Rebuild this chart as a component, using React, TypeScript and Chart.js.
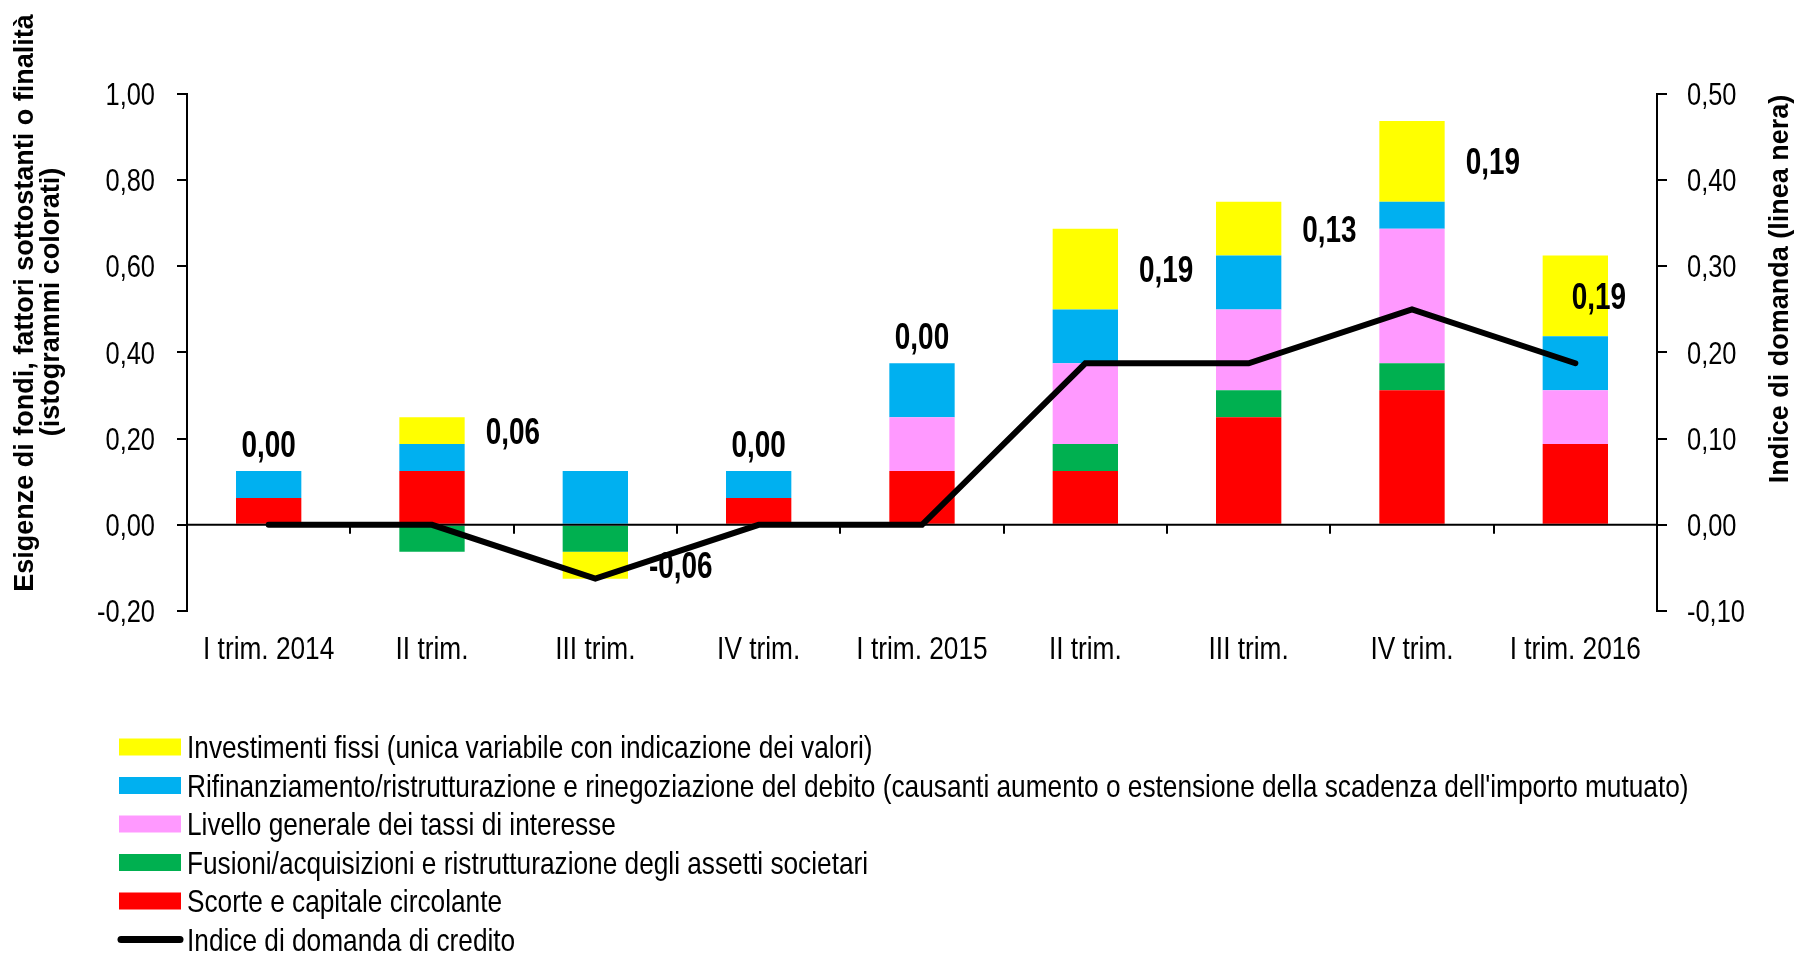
import React, { useEffect, useRef } from "react";
import { Chart, registerables } from "chart.js";

Chart.register(...registerables);

// ---------- data ----------
const categories = [
  "I trim. 2014",
  "II trim.",
  "III trim.",
  "IV trim.",
  "I trim. 2015",
  "II trim.",
  "III trim.",
  "IV trim.",
  "I trim. 2016",
];

const scorte = [0.0625, 0.125, 0, 0.0625, 0.125, 0.125, 0.25, 0.3125, 0.1875];
const fusioni = [0, -0.0625, -0.0625, 0, 0, 0.0625, 0.0625, 0.0625, 0];
const livello = [0, 0, 0, 0, 0.125, 0.1875, 0.1875, 0.3125, 0.125];
const rifinanziamento = [0.0625, 0.0625, 0.125, 0.0625, 0.125, 0.125, 0.125, 0.0625, 0.125];
const investimenti = [0, 0.0625, -0.0625, 0, 0, 0.1875, 0.125, 0.1875, 0.1875];
const indiceDomanda = [0, 0, -0.0625, 0, 0, 0.1875, 0.1875, 0.25, 0.1875];

const leftTicks = [-0.2, 0, 0.2, 0.4, 0.6, 0.8, 1.0];
const rightTicks = [-0.1, 0, 0.1, 0.2, 0.3, 0.4, 0.5];

const seriesLabels = [
  "Scorte e capitale circolante",
  "Fusioni/acquisizioni e ristrutturazione degli assetti societari",
  "Livello generale dei tassi di interesse",
  "Rifinanziamento/ristrutturazione e rinegoziazione del debito (causanti aumento o estensione della scadenza dell'importo mutuato)",
  "Investimenti fissi (unica variabile con indicazione dei valori)",
  "Indice di domanda di credito",
];
const seriesColors = ["#FF0000", "#00B050", "#FF99FF", "#00B0F0", "#FFFF00", "#000000"];
const legendOrder = [4, 3, 2, 1, 0, 5];

const leftTitle = ["Esigenze di fondi, fattori sottostanti o finalità", "(istogrammi colorati)"];
const rightTitle = "Indice di domanda (linea nera)";

const barSeries = [scorte, fusioni, livello, rifinanziamento, investimenti];

const FONT = '"Liberation Sans", Arial, sans-serif';
const NARROW = 0.82;

const fmt = (v: number) => Number(v).toFixed(2).replace(".", ",");

function narrowText(
  ctx: CanvasRenderingContext2D,
  text: string,
  x: number,
  y: number,
  align: CanvasTextAlign,
  sy = 1
) {
  ctx.save();
  ctx.translate(x, y);
  ctx.scale(NARROW, sy);
  ctx.textAlign = align;
  ctx.textBaseline = "alphabetic";
  ctx.fillText(text, 0, 0);
  ctx.restore();
}

const overlayPlugin = {
  id: "overlay",
  afterDatasetsDraw(chart: any) {
    const { ctx, chartArea, scales } = chart;
    const xs = scales.x;
    const ys = scales.y;
    const y0 = ys.getPixelForValue(0);
    ctx.save();
    ctx.strokeStyle = "#000";
    ctx.lineWidth = 2;
    ctx.beginPath();
    ctx.moveTo(chartArea.left, y0);
    ctx.lineTo(chartArea.right, y0);
    ctx.stroke();
    for (let i = 1; i < categories.length; i++) {
      const bx = Math.round((xs.getPixelForValue(i - 1) + xs.getPixelForValue(i)) / 2);
      ctx.beginPath();
      ctx.moveTo(bx, y0);
      ctx.lineTo(bx, y0 + 9);
      ctx.stroke();
    }

    // value labels of "Investimenti fissi"
    ctx.font = `bold 34px ${FONT}`;
    ctx.fillStyle = "#000";
    const meta = chart.getDatasetMeta(4);
    investimenti.forEach((v, i) => {
      const txt = fmt(v);
      const tw = ctx.measureText(txt).width * NARROW;
      const el = meta.data[i];
      const p = el.getProps(["x", "y", "base", "width"], true);
      if (Math.abs(v) < 1e-9) {
        const posSum = barSeries.reduce((s, arr) => s + Math.max(arr[i], 0), 0);
        const top = ys.getPixelForValue(posSum);
        narrowText(ctx, txt, p.x, top - 14, "center", 1.08);
      } else {
        const mid = (p.y + p.base) / 2;
        let cx = p.x + p.width / 2 + 21 + tw / 2;
        cx = Math.min(cx, chartArea.right - 31 - tw / 2);
        narrowText(ctx, txt, cx, mid + 13, "center", 1.08);
      }
    });
    ctx.restore();
  },
  afterDraw(chart: any) {
    const { ctx, chartArea, scales } = chart;
    ctx.save();
    ctx.fillStyle = "#000";

    // tick labels
    ctx.font = `32px ${FONT}`;
    categories.forEach((c, i) => {
      narrowText(ctx, c, scales.x.getPixelForValue(i), chartArea.bottom + 48, "center");
    });
    ctx.font = `31px ${FONT}`;
    leftTicks.forEach((v) => {
      narrowText(ctx, fmt(v), chartArea.left - 32, scales.y.getPixelForValue(v) + 11, "right");
    });
    rightTicks.forEach((v) => {
      narrowText(ctx, fmt(v), chartArea.right + 30, scales.y1.getPixelForValue(v) + 11, "left");
    });

    // axis titles
    ctx.font = `bold 27px ${FONT}`;
    ctx.textAlign = "center";
    ctx.textBaseline = "alphabetic";
    const drawRot = (text: string, x: number, y: number) => {
      ctx.save();
      ctx.translate(x, y);
      ctx.rotate(-Math.PI / 2);
      ctx.fillText(text, 0, 0);
      ctx.restore();
    };
    drawRot(leftTitle[0], 33, 303);
    drawRot(leftTitle[1], 59, 302);
    drawRot(rightTitle, 1788, 289);

    // legend
    ctx.font = `32px ${FONT}`;
    legendOrder.forEach((di, k) => {
      const cy = 747 + k * 38.5;
      const color = seriesColors[di];
      if (di === 5) {
        ctx.strokeStyle = color;
        ctx.lineWidth = 7;
        ctx.lineCap = "round";
        ctx.beginPath();
        ctx.moveTo(121, cy);
        ctx.lineTo(180, cy);
        ctx.stroke();
      } else {
        ctx.fillStyle = color;
        ctx.fillRect(119, cy - 8.5, 62, 17);
      }
      ctx.fillStyle = "#000";
      narrowText(ctx, seriesLabels[di], 187, cy + 11, "left");
    });
    ctx.restore();
  },
};

export default function App() {
  const ref = useRef<HTMLCanvasElement>(null);

  useEffect(() => {
    document.body.style.margin = "0";
    const canvas = ref.current;
    if (!canvas) return;

    const barDatasets = barSeries.map((arr, i) => ({
      type: "bar" as const,
      label: seriesLabels[i],
      data: arr,
      backgroundColor: seriesColors[i],
      borderWidth: 0,
      barPercentage: 0.4,
      categoryPercentage: 1.0,
      yAxisID: "y",
      order: 1,
    }));

    const lineDataset = {
      type: "line" as const,
      label: seriesLabels[5],
      data: indiceDomanda,
      borderColor: "#000",
      backgroundColor: "#000",
      borderWidth: 6,
      pointRadius: 0,
      tension: 0,
      fill: false,
      borderCapStyle: "round",
      yAxisID: "y1",
      order: 0,
    };

    const axisGrid = {
      drawOnChartArea: false,
      drawTicks: true,
      tickLength: 10,
      color: "#000",
      tickColor: "#000",
      tickWidth: 2,
      lineWidth: 2,
    };

    const chart = new Chart(canvas, {
      data: {
        labels: categories,
        datasets: [...barDatasets, lineDataset] as any,
      },
      options: {
        animation: false,
        responsive: false,
        maintainAspectRatio: false,
        layout: { padding: { left: 0, right: 0, top: 94, bottom: 282 } },
        plugins: {
          legend: { display: false },
          tooltip: { enabled: false },
          title: { display: false },
        },
        scales: {
          x: {
            stacked: true,
            grid: { display: false, drawTicks: false },
            border: { display: false },
            ticks: { display: false, autoSkip: false, maxRotation: 0 },
            afterFit: (s: any) => {
              s.height = 60;
            },
          },
          y: {
            position: "left",
            stacked: true,
            min: -0.2,
            max: 1.0,
            afterBuildTicks: (s: any) => {
              s.ticks = leftTicks.map((v) => ({ value: v }));
            },
            ticks: { display: false },
            grid: axisGrid,
            border: { display: true, color: "#000", width: 2 },
            afterFit: (s: any) => {
              s.width = 187;
            },
          },
          y1: {
            position: "right",
            min: -0.1,
            max: 0.5,
            afterBuildTicks: (s: any) => {
              s.ticks = rightTicks.map((v) => ({ value: v }));
            },
            ticks: { display: false },
            grid: axisGrid,
            border: { display: true, color: "#000", width: 2 },
            afterFit: (s: any) => {
              s.width = 143;
            },
          },
        },
      } as any,
      plugins: [overlayPlugin],
    });

    return () => chart.destroy();
  }, []);

  return (
    <div style={{ width: 1800, height: 953, background: "#fff" }}>
      <canvas ref={ref} width={1800} height={953} style={{ display: "block" }} />
    </div>
  );
}
